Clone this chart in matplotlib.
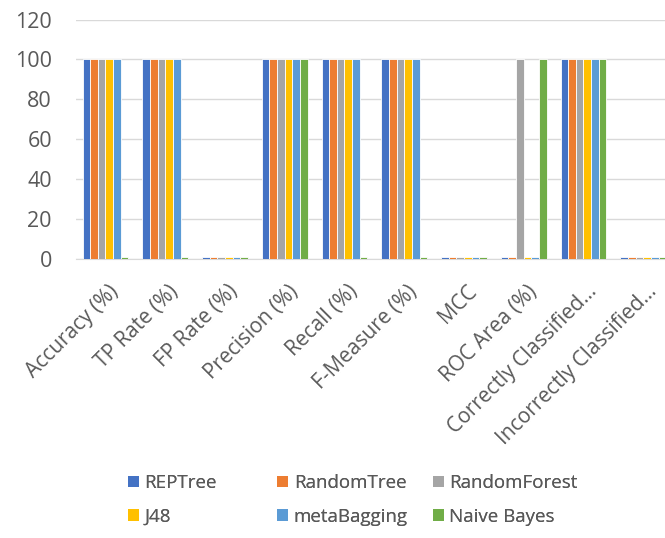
import matplotlib
matplotlib.use("Agg")
import matplotlib.pyplot as plt
from matplotlib.patches import Patch
from matplotlib.transforms import ScaledTranslation
import numpy as np

plt.rcParams['font.family'] = ['Open Sans', 'DejaVu Sans']

categories = ["Accuracy (%)", "TP Rate (%)", "FP Rate (%)", "Precision (%)",
              "Recall (%)", "F-Measure (%)", "MCC", "ROC Area (%)",
              "Correctly Classified...", "Incorrectly Classified..."]

rep_tree      = [100, 100, 1, 100, 100, 100, 1, 1,   100, 1]
random_tree   = [100, 100, 1, 100, 100, 100, 1, 1,   100, 1]
random_forest = [100, 100, 1, 100, 100, 100, 1, 100, 100, 1]
j48           = [100, 100, 1, 100, 100, 100, 1, 1,   100, 1]
meta_bagging  = [100, 100, 1, 100, 100, 100, 1, 1,   100, 1]
naive_bayes   = [1,   1,   1, 100, 1,   1,   1, 100, 100, 1]

series_names = ["REPTree", "RandomTree", "RandomForest", "J48", "metaBagging", "Naive Bayes"]
series_values = [rep_tree, random_tree, random_forest, j48, meta_bagging, naive_bayes]
colors = ["#4472C4", "#ED7D31", "#A5A5A5", "#FFC000", "#5B9BD5", "#70AD47"]

yticks = [0, 20, 40, 60, 80, 100, 120]

fig = plt.figure(figsize=(6.65, 5.38), dpi=100)
ax = fig.add_axes([0.1137, 0.5186, 0.8985, 0.445])

x = np.arange(len(categories))
group_w = 1 / 1.3
bar_w = group_w / len(series_names)
for i, (name, vals, c) in enumerate(zip(series_names, series_values, colors)):
    offs = -group_w / 2 + bar_w * (i + 0.5)
    ax.bar(x + offs, vals, width=bar_w, color=c, edgecolor="white",
           linewidth=0.6, label=name, zorder=3)

ax.set_xlim(-0.5, len(categories) - 0.5)
ax.set_ylim(0, 120)
ax.set_yticks(yticks)
ax.yaxis.grid(True, color="#D9D9D9", linewidth=1.0, zorder=0)
ax.set_axisbelow(True)
for s in ["top", "right", "left"]:
    ax.spines[s].set_visible(False)
ax.spines["bottom"].set_color("#D9D9D9")
ax.tick_params(axis="both", length=0, colors="#595959")
ax.tick_params(axis="y", pad=17, labelsize=15.5)
ax.tick_params(axis="x", pad=16)
ax.set_xticks(x)
ax.set_xticklabels(categories, rotation=45, ha="right", va="top",
                   rotation_mode="anchor", fontsize=15, color="#595959")
for lbl in ax.get_xticklabels():
    lbl.set_transform(lbl.get_transform() + ScaledTranslation(2 / 72, 0, fig.dpi_scale_trans))

# legend laid out as three columns of two rows
col_x = [0.192, 0.417, 0.651]
for k in range(3):
    handles = [Patch(facecolor=colors[k]), Patch(facecolor=colors[k + 3])]
    labels = [series_names[k], series_names[k + 3]]
    leg = fig.legend(handles, labels, loc="upper left",
                     bbox_to_anchor=(col_x[k], 0.119), frameon=False,
                     fontsize=13.5, labelcolor="#595959", handlelength=0.58,
                     handleheight=0.58, handletextpad=0.3, labelspacing=0.85,
                     borderpad=0, borderaxespad=0)
    fig.add_artist(leg)

fig.savefig("out.png", dpi=100)
